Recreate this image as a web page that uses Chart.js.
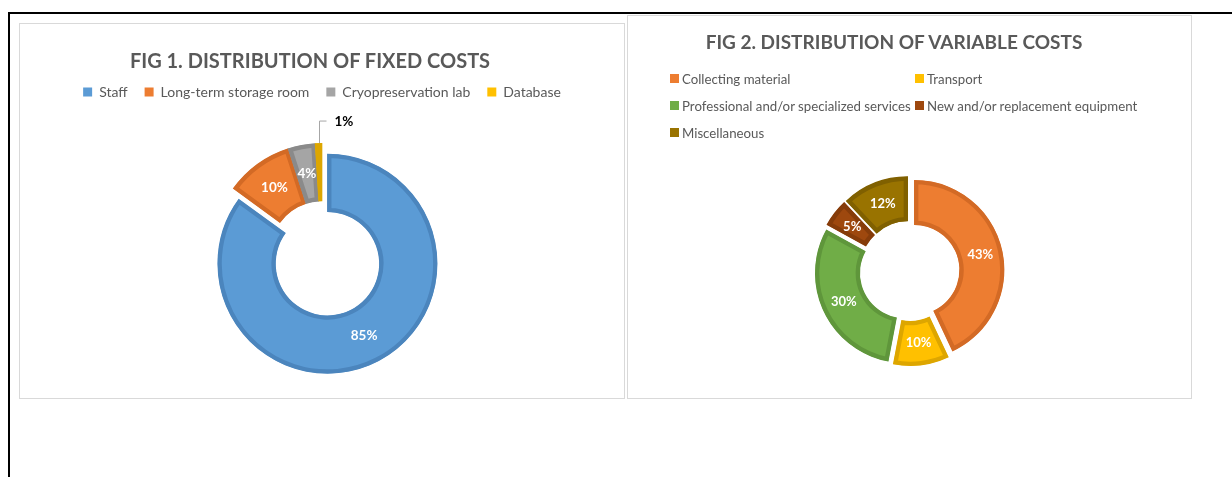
<!DOCTYPE html>
<html>
<head>
<meta charset="utf-8">
<script src="https://cdn.jsdelivr.net/npm/chart.js@4.4.1/dist/chart.umd.min.js"></script>
<style>
  html, body { margin:0; padding:0; background:#fff; }
  body { width:1232px; height:477px; position:relative; overflow:hidden; font-family:Lato, 'Open Sans', sans-serif; color:#595959; }
  .frame { position:absolute; left:8px; top:12px; right:-4px; bottom:-4px; border-top:2px solid #000; border-left:2px solid #000; }
  .box { position:absolute; border:1px solid #d9d9d9; box-sizing:border-box; }
  #box1 { left:19px; top:23px; width:606px; height:376px; }
  #box2 { left:627px; top:15px; width:565px; height:384px; }
  .title { position:absolute; font-weight:700; line-height:24px; text-align:center; white-space:nowrap; }
  #title1 { left:110px; width:400px; top:48px; font-size:20px; }
  #title2 { left:694px; width:400px; top:30px; font-size:19px; }
  canvas { position:absolute; }
  #fixed { left:20px; top:24px; }
  #variable { left:628px; top:16px; }
  #legend2 { position:absolute; left:670px; top:65px; display:grid; grid-template-columns:245px auto; grid-auto-rows:27px; font-size:13.25px; }
  #legend2 .item { display:flex; align-items:center; white-space:nowrap; }
  #legend2 .sw { width:9px; height:9px; margin-right:3px; flex:none; }
</style>
</head>
<body>
<div class="frame"></div>
<div class="box" id="box1"></div>
<div class="box" id="box2"></div>
<canvas id="fixed" width="604" height="374"></canvas>
<canvas id="variable" width="563" height="382"></canvas>
<div class="title" id="title1">FIG 1. DISTRIBUTION OF FIXED COSTS</div>
<div class="title" id="title2">FIG 2. DISTRIBUTION OF VARIABLE COSTS</div>
<div id="legend2"></div>
<script>
// fixed costs (% of total)
const fixedLabels = ['Staff', 'Long-term storage room', 'Cryopreservation lab', 'Database'];
const fixedShares = [85, 10, 4, 1];
const fixedColors = ['#5B9BD5', '#ED7D31', '#A5A5A5', '#FFC000'];
const fixedEdges  = ['#4B85BD', '#D36A25', '#8A8A8A', '#DDA600'];

// variable costs (% of total)
const variableLabels = ['Collecting material', 'Transport', 'Professional and/or specialized services', 'New and/or replacement equipment', 'Miscellaneous'];
const variableShares = [43, 10, 30, 5, 12];
const variableColors = ['#ED7D31', '#FFC000', '#70AD47', '#9E480E', '#997300'];
const variableEdges  = ['#D36A25', '#DDA600', '#5F963B', '#863C0A', '#806000'];

// push slices out from the centre, like excel's "point explosion"
const explode = {
  id: 'explode',
  afterDatasetUpdate(chart, args){
    const dist = chart.data.datasets[args.index].explode || [];
    args.meta.data.forEach((arc, i) => {
      const d = dist[i] || 0;
      const mid = (arc.startAngle + arc.endAngle) / 2;
      arc.x += Math.cos(mid) * d;
      arc.y += Math.sin(mid) * d;
    });
  }
};

// percent labels, small slices get a leader line outside the ring
const pctLabels = {
  id: 'pctLabels',
  afterDatasetsDraw(chart, args, o){
    const ctx = chart.ctx, ds = chart.data.datasets[0];
    ctx.save();
    ctx.font = `bold ${o.size}px Lato`;
    ctx.textBaseline = 'middle';
    chart.getDatasetMeta(0).data.forEach((arc, i) => {
      const txt = ds.data[i] + '%';
      if (ds.data[i] < (o.outsideBelow || 0)) {
        const mid = (arc.startAngle + arc.endAngle) / 2;
        const x0 = Math.round(arc.x + Math.cos(mid) * arc.outerRadius) + 0.5;
        const y0 = arc.y + Math.sin(mid) * arc.outerRadius;
        const y1 = y0 - o.leader;
        ctx.strokeStyle = '#a6a6a6'; ctx.lineWidth = 1;
        ctx.beginPath(); ctx.moveTo(x0, y0); ctx.lineTo(x0, y1); ctx.lineTo(x0 + 7, y1); ctx.stroke();
        ctx.fillStyle = '#000'; ctx.textAlign = 'left';
        ctx.fillText(txt, x0 + 15, y1 + 1);
      } else {
        const p = arc.tooltipPosition();
        ctx.fillStyle = '#fff'; ctx.textAlign = 'center';
        ctx.fillText(txt, p.x, p.y);
      }
    });
    ctx.restore();
  }
};

const flatBoxes = chart => Chart.overrides.doughnut.plugins.legend.labels.generateLabels(chart).map(l => ({...l, lineWidth: 0}));

new Chart(document.getElementById('fixed'), {
  type: 'doughnut',
  data: { labels: fixedLabels, datasets: [{ data: fixedShares, backgroundColor: fixedColors, borderColor: fixedEdges,
    borderWidth: 4, borderAlign: 'inner', explode: [12, 0, 0, 0] }] },
  options: {
    responsive: false, animation: false, events: [],
    radius: 110, cutout: '47%',
    layout: { padding: { top: 44, bottom: 1, left: 0, right: 0 } },
    plugins: {
      tooltip: { enabled: false },
      legend: { position: 'top', labels: { boxWidth: 9, boxHeight: 9, padding: 17, color: '#595959',
        font: { family: 'Lato', size: 14 }, generateLabels: flatBoxes } },
      pctLabels: { size: 13.5, outsideBelow: 2, leader: 22 }
    }
  },
  plugins: [explode, pctLabels]
});

new Chart(document.getElementById('variable'), {
  type: 'doughnut',
  data: { labels: variableLabels, datasets: [{ data: variableShares, backgroundColor: variableColors, borderColor: variableEdges,
    borderWidth: 4, borderAlign: 'inner', explode: [5, 5, 5, 5, 5] }] },
  options: {
    responsive: false, animation: false, events: [],
    radius: 90, cutout: '50%',
    layout: { padding: { top: 128, bottom: 0, left: 0, right: 0 } },
    plugins: { tooltip: { enabled: false }, legend: { display: false }, pctLabels: { size: 13 } }
  },
  plugins: [explode, pctLabels]
});

// fig 2 legend: two columns like the excel one
const leg = document.getElementById('legend2');
variableLabels.forEach((name, i) => {
  const it = document.createElement('div'); it.className = 'item';
  it.innerHTML = `<span class="sw" style="background:${variableColors[i]}"></span>${name}`;
  leg.appendChild(it);
});
</script>
</body>
</html>
